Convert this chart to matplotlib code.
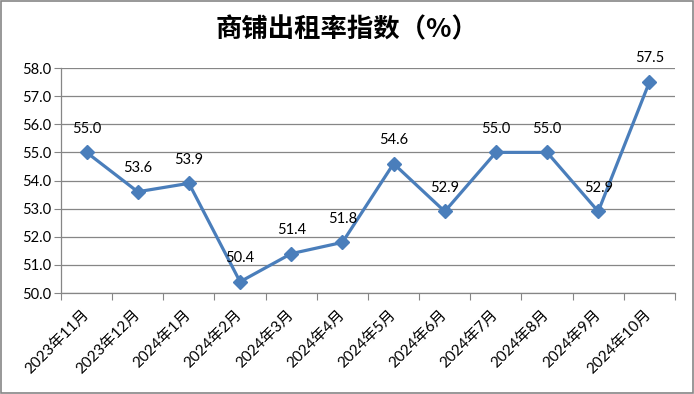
import matplotlib
matplotlib.use('Agg')
import matplotlib.pyplot as plt
from matplotlib.patches import Rectangle

# === Data ===
months = ['2023年11月', '2023年12月', '2024年1月', '2024年2月', '2024年3月', '2024年4月',
          '2024年5月', '2024年6月', '2024年7月', '2024年8月', '2024年9月', '2024年10月']
rate = [55.0, 53.6, 53.9, 50.4, 51.4, 51.8, 54.6, 52.9, 55.0, 55.0, 52.9, 57.5]
yticks = [50.0, 51.0, 52.0, 53.0, 54.0, 55.0, 56.0, 57.0, 58.0]

plt.rcParams['font.family'] = ['Lato', 'Noto Sans CJK SC', 'DejaVu Sans']

fig = plt.figure(figsize=(6.94, 3.94), dpi=100)
ax = fig.add_axes([0.0879, 0.2563, 0.8847, 0.5711])

grid_c = '#868686'
x = list(range(len(months)))
ax.plot(x, rate, color='#4A7EBB', lw=2.3, marker='D', ms=7, zorder=3)

for xi, v in zip(x, rate):
    ax.annotate(f'{v:.1f}', (xi, v), xytext=(0, 17), textcoords='offset points',
                ha='center', va='center', fontsize=10.5, color='black')

ax.set_xlim(-0.5, len(months) - 0.5)
ax.set_ylim(50, 58)
ax.set_yticks(yticks)
ax.set_yticklabels([f'{t:.1f}' for t in yticks], fontsize=10.5)
ax.yaxis.grid(True, color=grid_c, lw=0.9)
ax.set_axisbelow(True)

# ticks at category boundaries, labels at centres
ax.set_xticks([i - 0.5 for i in range(len(months) + 1)])
ax.set_xticklabels([])
ax.set_xticks(x, minor=True)
ax.set_xticklabels(months, minor=True, rotation=45, ha='right', va='center',
                   rotation_mode='anchor', fontsize=11)
ax.tick_params(axis='x', which='minor', length=0, pad=14)
ax.tick_params(axis='x', which='major', length=5, color=grid_c)
ax.tick_params(axis='y', length=5, color=grid_c, pad=2)

for s in ['top', 'right']:
    ax.spines[s].set_visible(False)
for s in ['left', 'bottom']:
    ax.spines[s].set_color(grid_c)
    ax.spines[s].set_linewidth(0.9)

fig.text(0.5, 0.925, '商铺出租率指数（%）', ha='center', va='center', fontsize=19,
         fontweight='bold', family=['Noto Sans CJK SC', 'DejaVu Sans'])

fig.patches.append(Rectangle((0.002, 0.003), 0.996, 0.994, transform=fig.transFigure,
                             fill=False, edgecolor='#868686', lw=1.2))

fig.savefig('out.png', dpi=100)
